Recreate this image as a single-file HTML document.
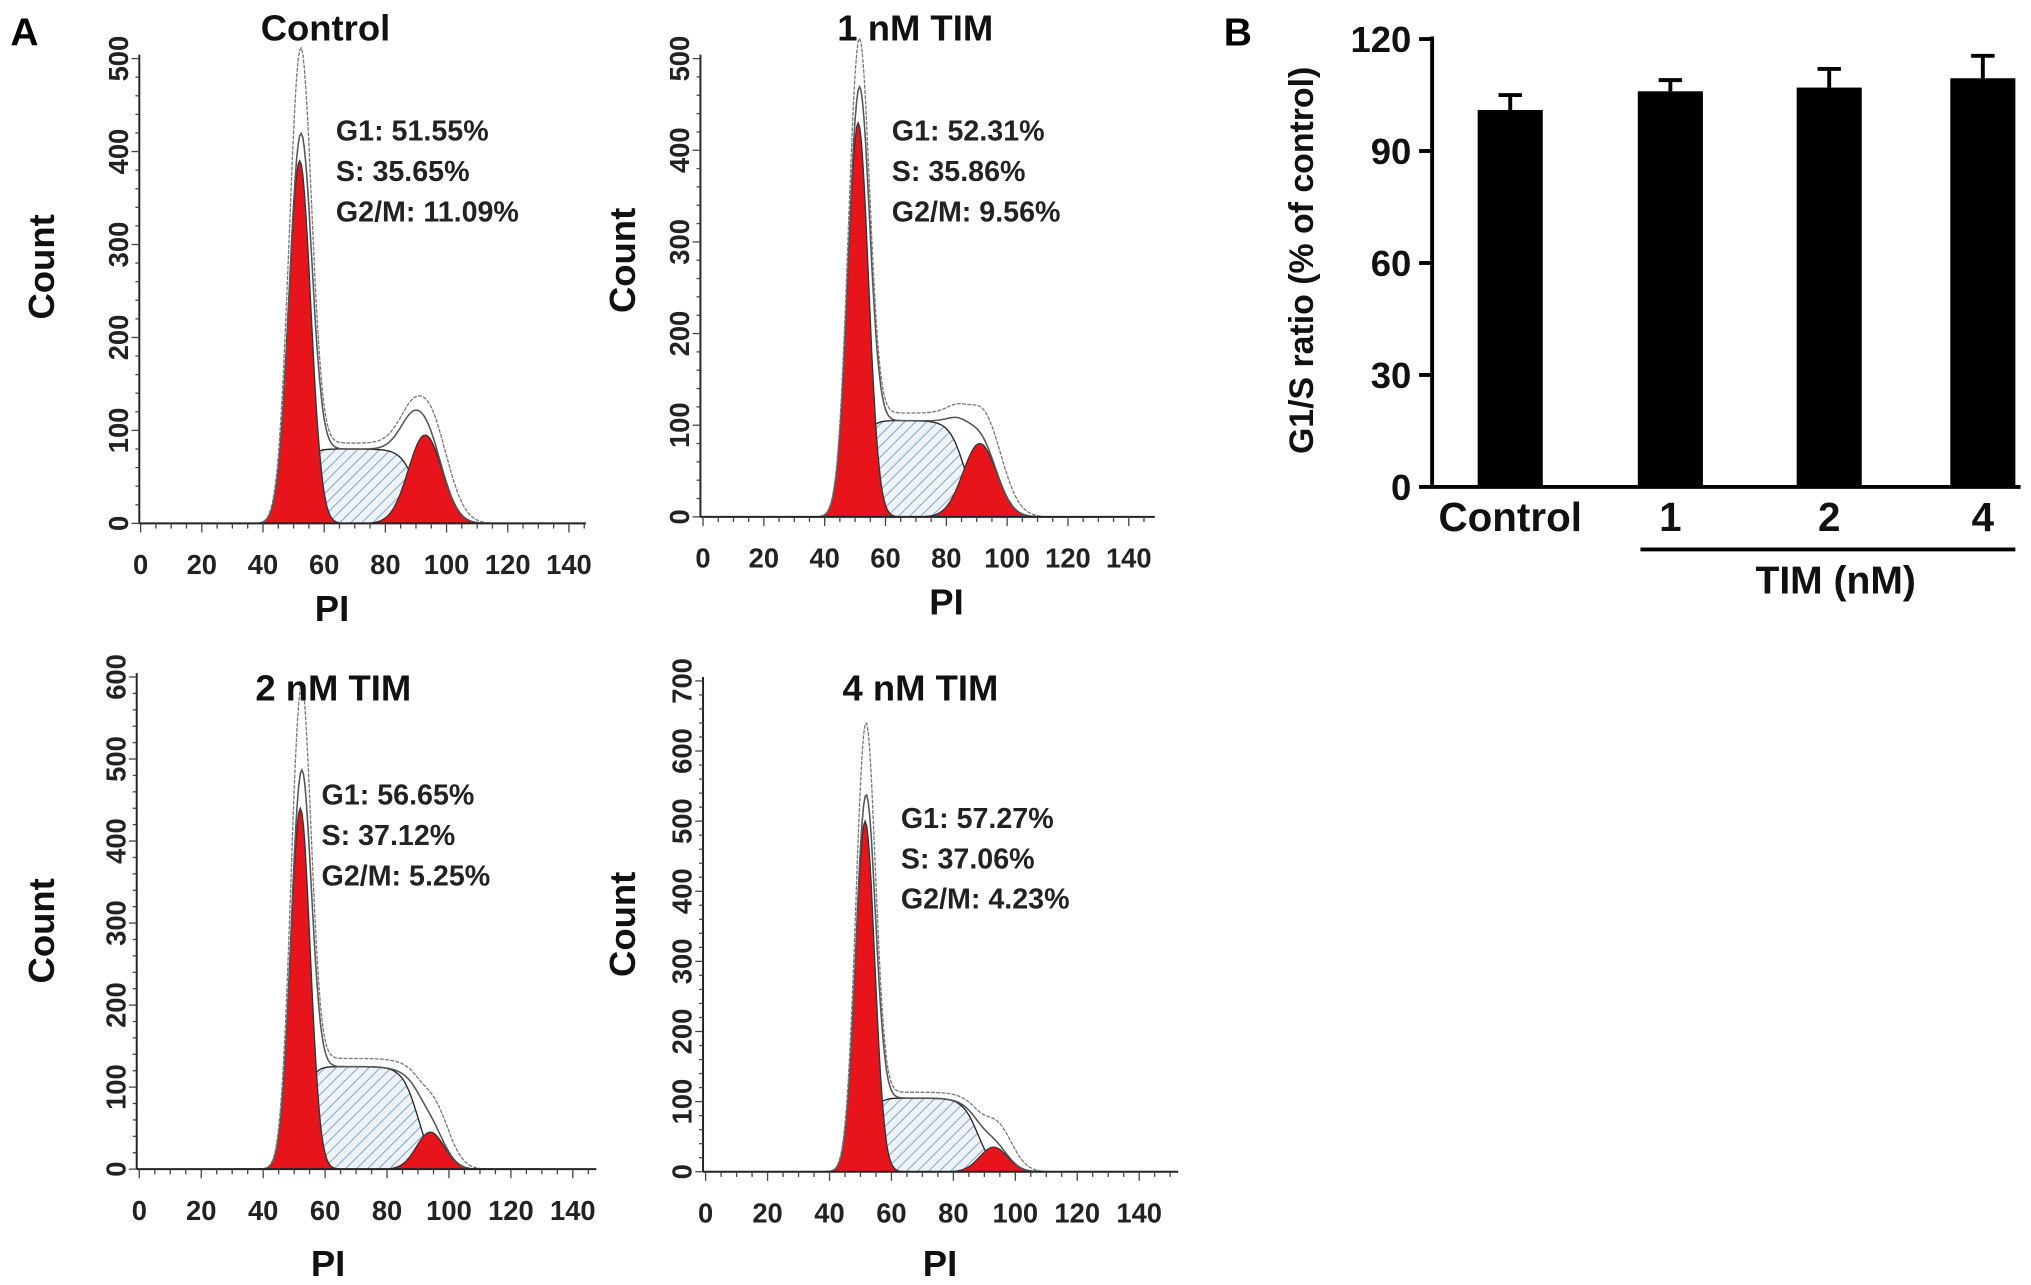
<!DOCTYPE html>
<html><head><meta charset="utf-8"><style>
html,body{margin:0;padding:0;background:#fff}
svg{display:block;font-family:"Liberation Sans",Arial,sans-serif;font-weight:bold}
</style></head><body>
<svg id="fig" width="2031" height="1285" viewBox="0 0 1560 987" preserveAspectRatio="none" xmlns="http://www.w3.org/2000/svg">
<defs>
<pattern id="hatch" patternUnits="userSpaceOnUse" width="6" height="6" patternTransform="rotate(45)">
<rect width="6" height="6" fill="#eef3f8"/><line x1="0" y1="0" x2="0" y2="6" stroke="#8aa9c8" stroke-width="1.6"/>
</pattern>
</defs>
<text x="8" y="35" font-size="30">A</text>
<text x="940" y="35" font-size="30">B</text>
<g id="hists"></g>
<g id="bars"></g>
</svg>
<script>
// Histogram panel data
const panelTitles = ["Control","1 nM TIM","2 nM TIM","4 nM TIM"];
const g1Pct = ["51.55%","52.31%","56.65%","57.27%"];
const sPct = ["35.65%","35.86%","37.12%","37.06%"];
const g2Pct = ["11.09%","9.56%","5.25%","4.23%"];
const yMaxes = [500,500,600,700];
const g1Centers = [52,51,52,51.5];
const g1Peaks = [390,430,440,500];
const g1Outline = [480,480,540,600];
const g1Sd = [3.6,3.4,3.2,3.1];
const sLevels = [80,105,125,105];
const sEnds = [90,86,90,88];
const g2Centers = [93,91,94,93];
const g2Peaks = [95,80,45,35];
const g2Outline = [140,140,110,95];
const g2Sd = [5.5,5.5,4.5,4.5];
const xTicks = [0,20,40,60,80,100,120,140];

// Bar chart data
const barCats = ["Control","1","2","4"];
const barVals = [101,106,107,109.5];
const barErr = [4,3,5,6];
const barYTicks = [0,30,60,90,120];

const NS="http://www.w3.org/2000/svg";
function mk(tag,attrs,parent){const e=document.createElementNS(NS,tag);for(const k in attrs)e.setAttribute(k,attrs[k]);parent.appendChild(e);return e;}
const layouts=[
 {ax:107,x0:108,x140:437,y0:402,ytop:45,xr:450,tx:250,ty:31,sx:258,sy:108,px:255,py:477,cx:32,cy:205},
 {ax:538,x0:540,x140:867,y0:397,ytop:45,xr:887,tx:703,ty:31,sx:685,sy:108,px:727,py:472,cx:478,cy:200},
 {ax:105,x0:107,x140:440,y0:898,ytop:520,xr:458,tx:256,ty:538,sx:247,sy:618,px:252,py:980,cx:32,cy:715},
 {ax:540,x0:542,x140:875,y0:900,ytop:523,xr:905,tx:707,ty:538,sx:692,sy:636,px:722,py:980,cx:478,cy:710}];
const hg=document.getElementById('hists');
function gauss(x,c,s,h){return h*Math.exp(-0.5*((x-c)/s)**2);}
for(let i=0;i<4;i++){
 const L=layouts[i];
 const X=v=>L.x0+(L.x140-L.x0)*v/140;
 const Y=v=>L.y0-(L.y0-L.ytop)*v/yMaxes[i];
 const g=mk('g',{},hg);
 
 
 const sF=x=>sLevels[i]/(1+Math.exp(-(x-g1Centers[i]-1)/1.5))/(1+Math.exp((x-sEnds[i])/2.5));
 const g1F=x=>gauss(x,g1Centers[i],g1Sd[i],g1Peaks[i]);
 const g2F=x=>gauss(x,g2Centers[i],g2Sd[i],g2Peaks[i]);
 const pts=[];for(let x=30;x<=130;x+=0.5)pts.push(x);
 const poly=f=>pts.map(x=>X(x).toFixed(1)+','+Y(f(x)).toFixed(1)).join(' ');
 const sp=mk('polygon',{points:X(30)+','+Y(0)+' '+poly(sF)+' '+X(130)+','+Y(0),fill:'url(#hatch)',stroke:'#222','stroke-width':1},g);
 
 const r1=mk('polygon',{points:X(30)+','+Y(0)+' '+poly(g1F)+' '+X(130)+','+Y(0),fill:'#e8141c',stroke:'#333','stroke-width':1},g);
 
 const r2=mk('polygon',{points:X(30)+','+Y(0)+' '+poly(g2F)+' '+X(130)+','+Y(0),fill:'#e8141c',stroke:'#333','stroke-width':1},g);
 
 const sum=x=>g1F(x)+sF(x)+g2F(x);
 const o1=mk('polyline',{points:poly(sum),fill:'none',stroke:'#555','stroke-width':1.2},g);
 
 const raw=x=>gauss(x,g1Centers[i],g1Sd[i],g1Outline[i])+sF(x)*1.08+gauss(x,g2Centers[i]+1,g2Sd[i]*1.1,g2Outline[i]-sLevels[i]*0.3);
 const o2=mk('polyline',{points:poly(raw),fill:'none',stroke:'#777','stroke-width':1,'stroke-dasharray':'3,1'},g);
 
 const ya=mk('line',{x1:L.ax,y1:L.ytop-3,x2:L.ax,y2:L.y0,stroke:'#222','stroke-width':1.5},g);
 
 const xa=mk('line',{x1:L.ax,y1:L.y0,x2:L.xr,y2:L.y0,stroke:'#222','stroke-width':1.5},g);
 
 for(let v=0;v<=yMaxes[i];v+=20){mk('line',{x1:L.ax-(v%100?3:6),y1:Y(v),x2:L.ax,y2:Y(v),stroke:'#444','stroke-width':1},g);}
 for(let v=0;v<=yMaxes[i];v+=100){
  const yy=Y(v);
  const t=mk('text',{x:L.ax-16,y:yy,'font-size':21,'text-anchor':'middle',transform:`rotate(-90 ${L.ax-16} ${yy})`,fill:'#222','dominant-baseline':'central'},g);
  t.textContent=v;}
 for(let v=0;v<=150;v+=5){if(X(v)>L.xr)break;mk('line',{x1:X(v),y1:L.y0,x2:X(v),y2:L.y0+(v%20?4:7),stroke:'#444','stroke-width':1},g);}
 xTicks.forEach(v=>{const t=mk('text',{x:X(v),y:L.y0+39,'font-size':21,'text-anchor':'middle',fill:'#222'},g);
  t.textContent=v;});
 const ti=mk('text',{x:L.tx,y:L.ty,'font-size':28,'text-anchor':'middle',fill:'#111'},g);ti.textContent=panelTitles[i];
 
 [["G1: ",g1Pct[i]],["S: ",sPct[i]],["G2/M: ",g2Pct[i]]].forEach((p,k)=>{
  const t=mk('text',{x:L.sx,y:L.sy+k*31,'font-size':22,fill:'#222'},g);t.textContent=p[0]+p[1];
  });
 const pl=mk('text',{x:L.px,y:L.py,'font-size':28,'text-anchor':'middle',fill:'#111'},g);pl.textContent='PI';
 
 const cl=mk('text',{x:L.cx,y:L.cy,'font-size':28,'text-anchor':'middle',fill:'#111','dominant-baseline':'central',transform:`rotate(-90 ${L.cx} ${L.cy})`},g);cl.textContent='Count';
 
}
// Bar chart
const bg=document.getElementById('bars');
const BX0=1100,BY0=374,BYT=30,bMax=120;
const BY=v=>BY0-(BY0-BYT)*v/bMax;
const bCenters=[1160,1283,1405,1523];
barVals.forEach((v,k)=>{
 const c=bCenters[k];
 const e=mk('line',{x1:c,y1:BY(v),x2:c,y2:BY(v+barErr[k]),stroke:'#000','stroke-width':3},bg);
 
 const cap=mk('line',{x1:c-9,y1:BY(v+barErr[k]),x2:c+9,y2:BY(v+barErr[k]),stroke:'#000','stroke-width':3},bg);
 
 const r=mk('rect',{x:c-25,y:BY(v),width:50,height:BY0-BY(v),fill:'#000'},bg);
 
 const t=mk('text',{x:c,y:408,'font-size':31,'text-anchor':'middle',fill:'#111'},bg);t.textContent=barCats[k];
 
});
const bya=mk('line',{x1:BX0,y1:BYT-2,x2:BX0,y2:BY0,stroke:'#000','stroke-width':3},bg);

const bxa=mk('line',{x1:BX0,y1:BY0,x2:1552,y2:BY0,stroke:'#000','stroke-width':3},bg);

barYTicks.forEach(v=>{mk('line',{x1:BX0-10,y1:BY(v),x2:BX0,y2:BY(v),stroke:'#000','stroke-width':3},bg);
 const t=mk('text',{x:BX0-16,y:BY(v)+10,'font-size':28,'text-anchor':'end',fill:'#111'},bg);t.textContent=v;
 });
const gl=mk('line',{x1:1260,y1:422,x2:1548,y2:422,stroke:'#000','stroke-width':3},bg);

const tl=mk('text',{x:1410,y:456,'font-size':30,'text-anchor':'middle',fill:'#111'},bg);tl.textContent='TIM (nM)';

const yl=mk('text',{x:1000,y:200,'font-size':26,'text-anchor':'middle','dominant-baseline':'central',fill:'#111',transform:'rotate(-90 1000 200)'},bg);yl.textContent='G1/S ratio (% of control)';

</script>
</body></html>
